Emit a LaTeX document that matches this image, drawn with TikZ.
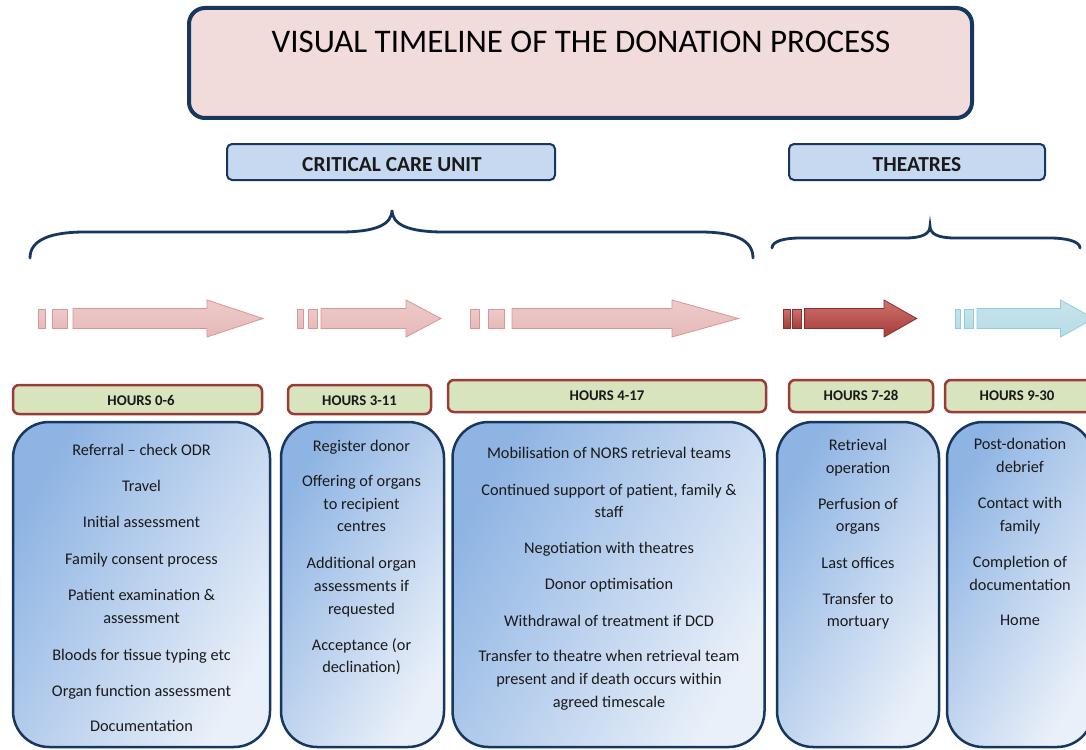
\documentclass[tikz,border=0pt]{standalone}
\usepackage{fontspec}
\setmainfont{Carlito}
\definecolor{navy}{HTML}{17375E}
\definecolor{titlefill}{HTML}{F2DCDB}
\definecolor{secfill}{HTML}{C6D9F1}
\definecolor{hourfill}{HTML}{D7E4BD}
\definecolor{hourborder}{HTML}{9B3B38}
\definecolor{cbdark}{HTML}{8EB4E3}
\definecolor{cblight}{HTML}{EAF0F9}
\definecolor{textcol}{HTML}{1A1A1A}
\definecolor{pinkborder}{HTML}{D99694}
\definecolor{pinktop}{HTML}{EDCACA}
\definecolor{pinkmid}{HTML}{F8EAEA}
\definecolor{pinkbot}{HTML}{E6BAB9}
\definecolor{redborder}{HTML}{8C2F2C}
\definecolor{redtop}{HTML}{D0706D}
\definecolor{redmid}{HTML}{C0504D}
\definecolor{redbot}{HTML}{A33D3A}
\definecolor{blueborder}{HTML}{93CDDD}
\definecolor{bluetop}{HTML}{C6E4EC}
\definecolor{bluemid}{HTML}{E4F2F6}
\definecolor{bluebot}{HTML}{B8DCE6}
\newcommand\txtline[4]{\node[bodytext] (#1) at (#2,#3) {#4};}
\newcommand\timearrow[8]{%
  \path[#1] (#2,309) rectangle (#3,328.5);
  \path[#1] (#4,309) rectangle (#5,328.5);
  \path[#1] (#6,308.5) -- (#7,308.5) -- (#7,300) -- (#8,318.5) -- (#7,337) -- (#7,328.5) -- (#6,328.5) -- cycle;}
\begin{document}
\begin{tikzpicture}[x=1pt,y=-1pt,
  titlebox/.style={draw=navy, line width=4, fill=titlefill, rounded corners=16, inner sep=0},
  secbox/.style={draw=navy, line width=2, fill=secfill, rounded corners=5, inner sep=0},
  hourbox/.style={draw=hourborder, line width=2.5, fill=hourfill, rounded corners=6, inner sep=0},
  contentbox/.style={draw=navy, line width=2.5, rounded corners=36, inner sep=0,
     left color=cbdark, right color=cblight, shading angle=60},
  bodytext/.style={font=\fontsize{16.3}{20}\selectfont, text=textcol, inner sep=0, anchor=base},
  hourtext/.style={font=\bfseries\fontsize{14.8}{17}\selectfont, text=textcol, inner sep=0},
  sectext/.style={font=\bfseries\fontsize{21.4}{25}\selectfont, text=textcol, inner sep=0},
  titletext/.style={font=\fontsize{33}{38}\selectfont, text=black, inner sep=0},
  bracestyle/.style={draw=navy, line width=2.8, line cap=round},
  pinkarrow/.style={draw=pinkborder, line width=0.8, top color=pinktop, middle color=pinkmid, bottom color=pinkbot},
  redarrow/.style={draw=redborder, line width=0.8, top color=redtop, middle color=redmid, bottom color=redbot},
  bluearrow/.style={draw=blueborder, line width=0.8, top color=bluetop, middle color=bluemid, bottom color=bluebot}]
\useasboundingbox (0,0) rectangle (1086,749);
\clip (0,0) rectangle (1086,749);
\fill[white] (0,0) rectangle (1086,749);
% title
\node[titlebox, minimum width=783, minimum height=110] (title) at (580.5,63) {};
\node[titletext] (titletxt) at (581,42) {VISUAL TIMELINE OF THE DONATION PROCESS};
% sections
\node[secbox, minimum width=328, minimum height=36] (ccu) at (391,162) {};
\node[sectext] (ccutxt) at (392,165) {CRITICAL CARE UNIT};
\node[secbox, minimum width=256, minimum height=36] (theatres) at (917,162) {};
\node[sectext] (theatxt) at (917,165) {THEATRES};
% braces
\draw[bracestyle] (30,258) .. controls (30,240) and (50,232) .. (85,232) -- (340,232)
   .. controls (375,232) and (392,225) .. (392,210)
   .. controls (392,225) and (409,232) .. (444,232) -- (700,232)
   .. controls (735,232) and (753,240) .. (753,258);
\draw[bracestyle] (772,248) .. controls (772,241) and (785,238) .. (800,238) -- (905,238)
   .. controls (922,238) and (930,234) .. (930,226)
   .. controls (930,234) and (938,238) .. (955,238) -- (1050,238)
   .. controls (1065,238) and (1080,241) .. (1080,248);
% arrows
\timearrow{pinkarrow}{38}{45.6}{52.6}{67.7}{73}{207}{263}
\timearrow{pinkarrow}{297.5}{303.5}{308}{317.5}{321}{406}{441}
\timearrow{pinkarrow}{470}{479}{488}{504}{512}{672}{738.5}
\timearrow{redarrow}{783}{790}{792.5}{801}{804.6}{884}{916.7}
\timearrow{bluearrow}{955.4}{960.6}{964}{973.5}{977}{1060.5}{1094}
% hours
\node[hourbox, minimum width=249, minimum height=29] (h1) at (137.5,399.5) {};
\node[hourtext] (h1t) at (141,400.5) {HOURS 0-6};
\node[hourbox, minimum width=143, minimum height=29] (h2) at (359.5,399.5) {};
\node[hourtext] (h2t) at (359.5,400.5) {HOURS 3-11};
\node[hourbox, minimum width=318, minimum height=32] (h3) at (607,396) {};
\node[hourtext] (h3t) at (607,395.5) {HOURS 4-17};
\node[hourbox, minimum width=144, minimum height=32] (h4) at (861,396) {};
\node[hourtext] (h4t) at (861,395.5) {HOURS 7-28};
\node[hourbox, minimum width=148, minimum height=32] (h5) at (1019,396) {};
\node[hourtext] (h5t) at (1017,395.5) {HOURS 9-30};
% content boxes
\node[contentbox, minimum width=257, minimum height=325] (c1) at (141.5,584.5) {};
\node[contentbox, minimum width=163, minimum height=325] (c2) at (362.5,584.5) {};
\node[contentbox, minimum width=312, minimum height=325] (c3) at (608.5,584.5) {};
\node[contentbox, minimum width=162, minimum height=325] (c4) at (858,584.5) {};
\node[contentbox, minimum width=146, minimum height=325] (c5) at (1020,584.5) {};
% box 1 text
\txtline{a1}{141.5}{455.5}{Referral – check ODR}
\txtline{a2}{141.5}{491.5}{Travel}
\txtline{a3}{141.5}{527.5}{Initial assessment}
\txtline{a4}{141.5}{564}{Family consent process}
\txtline{a5}{141.5}{600}{Patient examination \&}
\txtline{a6}{141.5}{623}{assessment}
\txtline{a7}{141.5}{660}{Bloods for tissue typing etc}
\txtline{a8}{141.5}{696}{Organ function assessment}
\txtline{a9}{141.5}{731}{Documentation}
% box 2 text
\txtline{b1}{361.5}{451}{Register donor}
\txtline{b2}{361.5}{486.7}{Offering of organs}
\txtline{b3}{361.5}{509.3}{to recipient}
\txtline{b4}{361.5}{531.7}{centres}
\txtline{b5}{361.5}{568.3}{Additional organ}
\txtline{b6}{361.5}{591}{assessments if}
\txtline{b7}{361.5}{614}{requested}
\txtline{b8}{361.5}{650}{Acceptance (or}
\txtline{b9}{361.5}{672.7}{declination)}
% box 3 text
\txtline{d1}{609}{458.3}{Mobilisation of NORS retrieval teams}
\txtline{d2}{609}{495}{Continued support of patient, family \&}
\txtline{d3}{609}{517.5}{staff}
\txtline{d4}{609}{553.3}{Negotiation with theatres}
\txtline{d5}{609}{589.3}{Donor optimisation}
\txtline{d6}{609}{626}{Withdrawal of treatment if DCD}
\txtline{d7}{609}{661.7}{Transfer to theatre when retrieval team}
\txtline{d8}{609}{684}{present and if death occurs within}
\txtline{d9}{609}{707}{agreed timescale}
% box 4 text
\txtline{e1}{858}{450}{Retrieval}
\txtline{e2}{858}{473.3}{operation}
\txtline{e3}{858}{509.3}{Perfusion of}
\txtline{e4}{858}{531.7}{organs}
\txtline{e5}{858}{568.3}{Last offices}
\txtline{e6}{858}{604.3}{Transfer to}
\txtline{e7}{858}{626}{mortuary}
% box 5 text
\txtline{f1}{1020}{449.3}{Post-donation}
\txtline{f2}{1020}{472.3}{debrief}
\txtline{f3}{1020}{508.3}{Contact with}
\txtline{f4}{1020}{531}{family}
\txtline{f5}{1020}{567.7}{Completion of}
\txtline{f6}{1020}{590}{documentation}
\txtline{f7}{1020}{625}{Home}
\end{tikzpicture}
\end{document}
